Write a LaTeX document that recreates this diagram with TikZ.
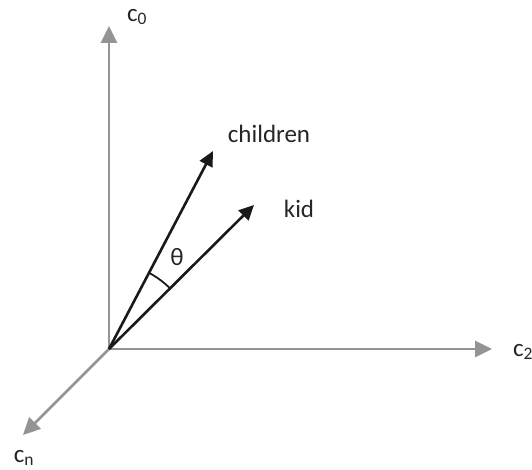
\documentclass[tikz,border=0pt]{standalone}
\usepackage{fontspec}
\setmainfont{Carlito}
\usetikzlibrary{arrows.meta,angles}
\begin{document}
\begin{tikzpicture}[
        x=1pt, y=-1pt,
        axis/.style={draw=black!42, line width=2.8pt, -{Triangle[length=17pt,width=16pt]}},
        vec/.style={draw=black!90, line width=2.6pt, -{Triangle[length=15pt,width=14pt]}},
        every node/.style={text=black!85, font=\fontsize{25}{28}\selectfont, inner sep=0pt}
    ]
        \useasboundingbox (0,0) rectangle (532,470);

        \coordinate (O) at (109,349);
        \coordinate (c0tip) at (109,26);
        \coordinate (c2tip) at (492,349);
        \coordinate (cntip) at (23,435);
        \coordinate (childtip) at (213,151);
        \coordinate (kidtip) at (254,205);

        \node (c0) at (137,17) {c\textsubscript{0}};
        \node (c2) at (523,352) {c\textsubscript{2}};
        \node (cn) at (24,458) {c\textsubscript{n}};
        \node (children) at (269,134) {children};
        \node (kid) at (299,209) {kid};
        \node (theta) at (177,257) {θ};

        \draw[axis] (O) -- (c0tip);
        \draw[axis] (O) -- (c2tip);
        \draw[axis] (O) -- (cntip);
        \draw[vec] (O) -- (childtip);
        \draw[vec] (O) -- (kidtip);
        \pic[draw=black!90, line width=1.8pt, angle radius=86pt] {angle=kidtip--O--childtip};
    \end{tikzpicture}
\end{document}
